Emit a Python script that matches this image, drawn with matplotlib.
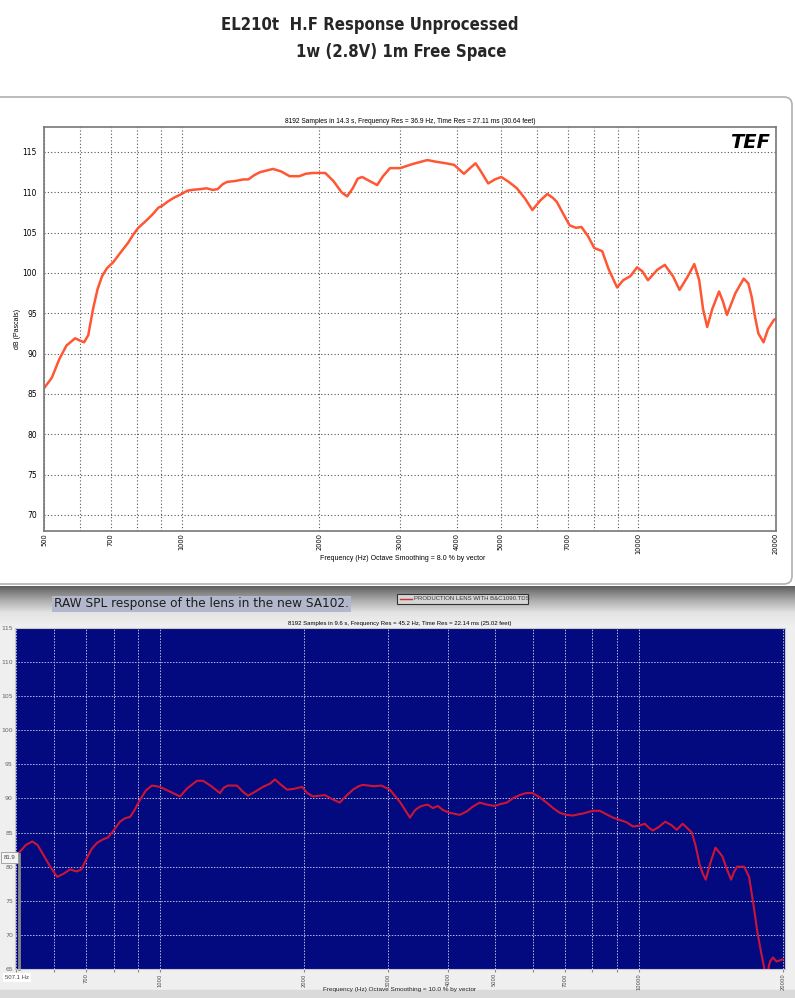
import numpy as np
import matplotlib
matplotlib.use("Agg")
import matplotlib.pyplot as plt
from matplotlib.patches import Rectangle, FancyBboxPatch
from matplotlib.ticker import NullLocator

W, H = 795, 998

# ---- data ----
top_freq = [500, 520, 540, 560, 585, 600, 612, 625, 640, 655, 670, 687, 708, 730, 763, 785,
            804, 830, 862, 890, 906, 930, 960, 993, 1030, 1055, 1100, 1135, 1170, 1200, 1230,
            1259, 1310, 1365, 1400, 1440, 1485, 1585, 1650, 1724, 1810, 1870, 1936, 2063, 2150,
            2240, 2304, 2370, 2430, 2485, 2560, 2680, 2760, 2860, 3010, 3200, 3450, 3600, 3790,
            3950, 4150, 4280, 4400, 4520, 4690, 4850, 5010, 5200, 5420, 5650, 5860, 6100, 6320,
            6500, 6630, 6850, 7070, 7300, 7500, 7750, 8000, 8330, 8600, 8980, 9260, 9600, 9930,
            10200, 10490, 11000, 11420, 11900, 12300, 12800, 13250, 13580, 13850, 14140, 14500,
            15010, 15300, 15620, 16300, 17000, 17400, 17700, 18000, 18300, 18780, 19200, 19800,
            20000]
top_db = [85.7, 87.0, 89.3, 91.0, 91.9, 91.6, 91.4, 92.3, 95.5, 98.0, 99.6, 100.6, 101.3, 102.3,
          103.7, 104.8, 105.6, 106.3, 107.2, 108.1, 108.3, 108.8, 109.3, 109.7, 110.2, 110.3,
          110.4, 110.5, 110.3, 110.4, 111.0, 111.3, 111.4, 111.6, 111.6, 112.1, 112.5, 112.9,
          112.6, 112.0, 112.0, 112.3, 112.4, 112.4, 111.4, 110.0, 109.5, 110.5, 111.7, 111.9,
          111.5, 110.9, 112.0, 113.0, 113.0, 113.5, 114.0, 113.8, 113.6, 113.4, 112.3, 113.0,
          113.6, 112.6, 111.1, 111.6, 111.9, 111.3, 110.5, 109.2, 107.8, 109.0, 109.8, 109.3,
          108.8, 107.3, 105.9, 105.6, 105.7, 104.6, 103.1, 102.7, 100.5, 98.2, 99.1, 99.6, 100.7,
          100.2, 99.1, 100.4, 101.0, 99.6, 97.9, 99.5, 101.1, 99.1, 95.5, 93.3, 95.5, 97.7, 96.5,
          94.8, 97.5, 99.3, 98.7, 97.0, 94.5, 92.5, 91.4, 93.0, 94.2, 94.3]

bot_freq = [507, 510, 525, 541, 555, 570, 590, 610, 630, 649, 670, 685, 704, 720, 739, 760, 779,
            800, 825, 845, 866, 885, 908, 935, 962, 1000, 1050, 1101, 1140, 1195, 1230, 1280,
            1334, 1360, 1386, 1448, 1490, 1527, 1580, 1641, 1700, 1738, 1790, 1842, 1900, 1981,
            2030, 2087, 2150, 2210, 2290, 2374, 2450, 2530, 2600, 2652, 2720, 2800, 2900, 3020,
            3170, 3328, 3410, 3490, 3560, 3625, 3713, 3806, 3900, 4029, 4228, 4372, 4500, 4653,
            4820, 5001, 5150, 5302, 5450, 5638, 5820, 6000, 6200, 6418, 6620, 6841, 7050, 7288,
            7500, 7650, 8014, 8290, 8550, 8832, 9440, 9716, 10000, 10294, 10500, 10700, 11000,
            11350, 11700, 12000, 12350, 12650, 12910, 13150, 13400, 13600, 13800, 14100, 14460,
            14950, 15300, 15590, 15800, 16050, 16600, 17000, 17350, 17700, 18000, 18300, 18500,
            18700, 18800, 19060, 19400, 19960]
bot_db = [82.0, 82.2, 83.2, 83.7, 83.2, 81.8, 80.0, 78.5, 79.0, 79.6, 79.3, 79.6, 81.3, 82.6,
          83.5, 84.0, 84.3, 85.3, 86.6, 87.1, 87.3, 88.3, 89.8, 91.2, 91.9, 91.7, 91.0, 90.3,
          91.5, 92.6, 92.6, 91.8, 90.8, 91.6, 91.9, 91.9, 91.0, 90.4, 91.0, 91.7, 92.2, 92.8,
          92.0, 91.3, 91.4, 91.7, 90.8, 90.3, 90.4, 90.5, 89.9, 89.4, 90.4, 91.3, 91.8, 92.0,
          91.9, 91.8, 91.9, 91.3, 89.5, 87.2, 88.3, 88.8, 89.0, 89.1, 88.6, 88.9, 88.3, 87.9,
          87.6, 88.1, 88.8, 89.4, 89.1, 88.9, 89.2, 89.4, 90.0, 90.5, 90.8, 90.8, 90.2, 89.4,
          88.6, 87.9, 87.6, 87.5, 87.7, 87.8, 88.2, 88.2, 87.7, 87.2, 86.5, 85.9, 86.0, 86.3,
          85.7, 85.3, 85.8, 86.6, 86.1, 85.4, 86.3, 85.6, 85.0, 83.0, 80.3, 79.0, 78.1, 80.5,
          82.8, 81.5, 79.5, 78.1, 79.2, 80.0, 80.0, 78.5, 74.5, 70.3, 67.5, 65.0, 63.5, 65.5,
          66.1, 66.7, 66.1, 66.4]

grid_freqs = [500, 600, 700, 800, 900, 1000, 2000, 3000, 4000, 5000, 6000, 7000, 8000, 9000,
              10000, 20000]
top_xlabels = ['500', '', '700', '', '', '1000', '2000', '3000', '4000', '5000', '', '7000',
               '', '', '10000', '20000']
bot_xlabels = [''] + top_xlabels[1:]
top_yticks = [70, 75, 80, 85, 90, 95, 100, 105, 110, 115]
bot_yticks = [65, 70, 75, 80, 85, 90, 95, 100, 105, 110, 115]

cursor_freq = 507.1
cursor_db = 81.9


def px(x0, y0, x1, y1):
    return [x0 / W, 1 - y1 / H, (x1 - x0) / W, (y1 - y0) / H]


small = ['Liberation Sans', 'DejaVu Sans']

fig = plt.figure(figsize=(W / 100, H / 100), dpi=100)

# background drawn in pixel coords
bg = fig.add_axes([0, 0, 1, 1])
bg.axis('off')
bg.add_patch(Rectangle((0, 0), W, H, color='#efefef', zorder=0))
bg.add_patch(Rectangle((0, 0), W, 592, color='white', zorder=1))
grad = np.linspace(0, 1, 60).reshape(-1, 1)
bg.imshow(grad, cmap=matplotlib.colors.LinearSegmentedColormap.from_list(
    'g', ['#5f5f5f', '#a8a8a8', '#e4e4e4', '#efefef']),
    extent=(0, W, 626, 586), aspect='auto', zorder=1)
bg.add_patch(Rectangle((0, 990), W, 8, color='#dadada', zorder=1))
bg.add_patch(FancyBboxPatch((-20, 97), 812, 487, boxstyle='round,pad=0,rounding_size=8',
                            fc='white', ec='#b0b0b0', lw=1.2, zorder=2))
bg.set_xlim(0, W)
bg.set_ylim(H, 0)

# main title
bg.text(370, 25, 'EL210t  H.F Response Unprocessed', family=['DejaVu Sans'],
        fontstretch='condensed', fontweight='bold', fontsize=12, color='#262626',
        ha='center', va='center', zorder=3)
bg.text(507, 52, '1w (2.8V) 1m Free Space', family=['DejaVu Sans'],
        fontstretch='condensed', fontweight='bold', fontsize=12, color='#262626',
        ha='right', va='center', zorder=3)

# header strip of the lower screenshot
bg.text(54, 604, 'RAW SPL response of the lens in the new SA102.', family=['DejaVu Sans'],
        fontsize=8.7, color='#1e1e1e', ha='left', va='center', zorder=3,
        bbox=dict(boxstyle='square,pad=0.15', fc='#b3b7cb', ec='none'))
bg.add_patch(Rectangle((397, 594), 131, 10, fc='#d6d6d6', ec='#333333', lw=0.8, zorder=3))
bg.plot([400, 412], [599, 599], color='#d03030', lw=1, zorder=4)
bg.text(414, 599, 'PRODUCTION LENS WITH B&C1090.TDS', family=small, fontsize=4.3,
        color='#333333', ha='left', va='center', zorder=4)
bg.text(400, 989, 'Frequency (Hz) Octave Smoothing = 10.0 % by vector', family=small,
        fontsize=4.6, color='#222222', ha='center', va='center', zorder=3)

# ---- top chart ----
ax = fig.add_axes(px(44, 127, 776, 531))
ax.set_zorder(5)
ax.plot(top_freq, top_db, color='#ff5634', lw=1.8)
ax.set_xscale('log')
ax.set_xlim(500, 20000)
ax.set_ylim(68, 118.1)
ax.set_xticks(grid_freqs, top_xlabels)
ax.xaxis.set_minor_locator(NullLocator())
ax.set_yticks(top_yticks)
ax.grid(True, color='#555555', lw=0.8, ls=(0, (1, 2)))
ax.tick_params(axis='x', labelrotation=90, labelsize=4.8, length=0, pad=1.5)
ax.tick_params(axis='y', labelsize=5.5, length=0, pad=5)
for s in ax.spines.values():
    s.set_color('#777777')
    s.set_linewidth(1.2)
ax.set_title('8192 Samples in 14.3 s, Frequency Res = 36.9 Hz, Time Res = 27.11 ms (30.64 feet)',
             fontsize=4.8, family=small, pad=3)
ax.set_xlabel('Frequency (Hz) Octave Smoothing = 8.0 % by vector', fontsize=5, family=small)
ax.xaxis.set_label_coords(0.49, -0.068)
ax.xaxis.label.set_va('center')
ax.set_ylabel('dB (Pascals)', fontsize=5, family=small, labelpad=1)
ax.text(0.992, 0.985, 'TEF', transform=ax.transAxes, ha='right', va='top', fontsize=14,
        fontweight='heavy', fontstyle='italic', family=['DejaVu Sans'], color='black')

# ---- bottom chart ----
ax2 = fig.add_axes(px(15, 628, 785, 969))
ax2.set_zorder(5)
ax2.set_facecolor('#03097e')
ax2.plot(bot_freq, bot_db, color='#cc1438', lw=1.5)
ax2.set_xscale('log')
ax2.set_xlim(498, 20200)
ax2.set_ylim(65, 115)
ax2.set_xticks(grid_freqs, bot_xlabels)
ax2.xaxis.set_minor_locator(NullLocator())
ax2.set_yticks(bot_yticks)
ax2.grid(True, color='#b8bce0', lw=0.7, ls=(0, (1.5, 1.5)))
ax2.tick_params(axis='x', labelrotation=90, labelsize=3.7, length=2, pad=1,
                colors='#888888', labelcolor='#444444')
ax2.tick_params(axis='y', labelsize=4.5, length=0, pad=1.5, labelcolor='#666666')
for s in ax2.spines.values():
    s.set_color('#c8c8c8')
    s.set_linewidth(0.8)
ax2.set_title('8192 Samples in 9.6 s, Frequency Res = 45.2 Hz, Time Res = 22.14 ms (25.02 feet)',
              fontsize=4.3, family=small, pad=2)
# cursor
ax2.plot([cursor_freq, cursor_freq], [65, cursor_db], color='#8a8a8a', lw=2, clip_on=False)
ax2.annotate(f'{cursor_db}', xy=(cursor_freq, cursor_db), xytext=(-11, -4),
             textcoords='offset points', fontsize=4.3, color='#444444', family=small,
             annotation_clip=False,
             bbox=dict(boxstyle='square,pad=0.5', fc='#f4f4f4', ec='#999999', lw=0.6))
ax2.annotate(f'{cursor_freq} Hz', xy=(cursor_freq, 65), xytext=(-10, -7),
             textcoords='offset points', fontsize=4.3, color='#444444', family=small,
             annotation_clip=False,
             bbox=dict(boxstyle='square,pad=0.3', fc='white', ec='none'))

fig.savefig('out.png', dpi=100)
